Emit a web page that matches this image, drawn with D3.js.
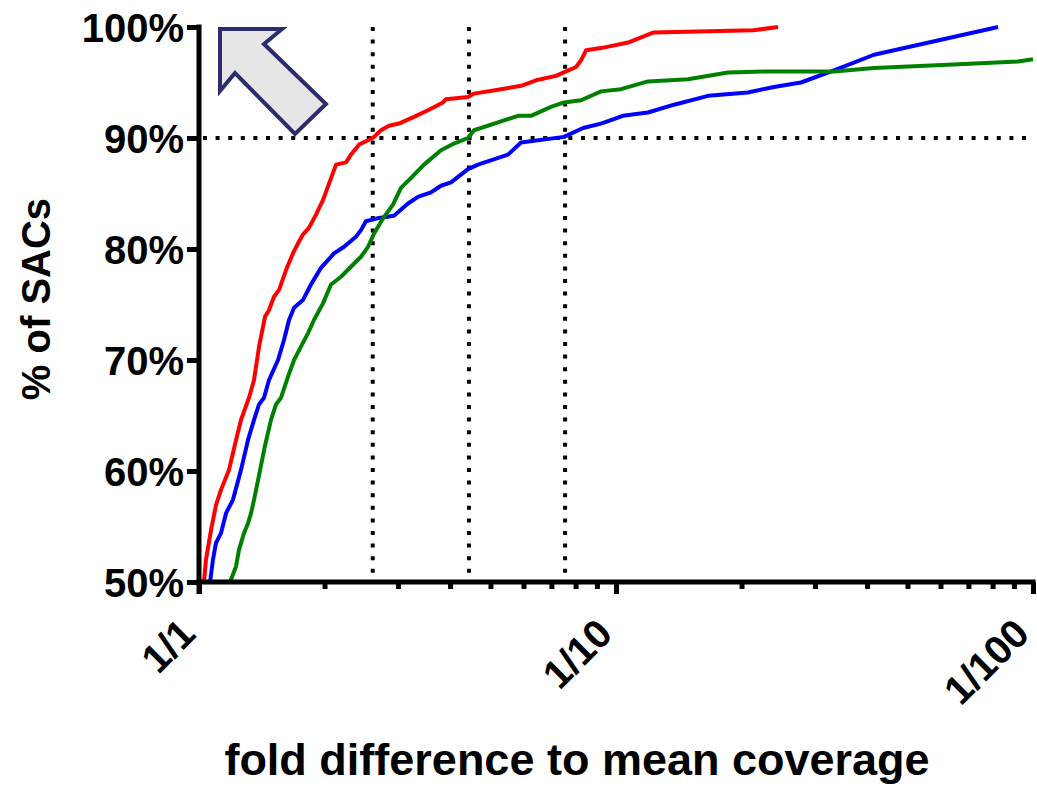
<!DOCTYPE html>
<html><head><meta charset="utf-8">
<script src="https://cdn.jsdelivr.net/npm/d3@7"></script>
<style>body{margin:0;background:#fff}svg{display:block}</style>
</head><body>
<svg id="c" width="1037" height="787"></svg>
<script>
// ---- data (fold difference = x, % of SACs = y) ----
const redFold = [1.028,1.039,1.069,1.098,1.129,1.180,1.227,1.261,1.318,1.355,1.393,1.440,1.472,1.513,1.555,1.617,1.680,1.727,1.775,1.835,1.908,1.983,2.131,2.252,2.314,2.419,2.543,2.629,2.732,2.855,3.017,3.278,3.541,3.847,3.911,4.417,4.566,5.299,5.918,6.429,7.181,7.590,8.021,8.246,8.476,9.204,10.69,12.27,21.31,24.46];
const redPct  = [50.0,52.0,54.7,56.9,58.3,60.1,62.8,64.6,66.6,68.2,71.2,73.9,74.5,75.7,76.3,78.1,79.6,80.5,81.3,81.9,83.1,84.4,87.6,87.8,88.5,89.4,89.8,90.1,90.7,91.1,91.3,91.9,92.5,93.2,93.5,93.7,94.0,94.4,94.7,95.2,95.6,96.0,96.4,97.0,97.9,98.1,98.6,99.5,99.7,100.0];

const blueFold = [1.063,1.080,1.098,1.129,1.161,1.206,1.261,1.311,1.355,1.393,1.432,1.472,1.547,1.599,1.644,1.690,1.775,1.856,1.961,2.108,2.228,2.379,2.446,2.514,2.702,2.935,3.171,3.351,3.600,3.805,4.021,4.417,4.668,5.508,5.918,7.506,8.337,9.204,10.39,11.93,13.78,16.62,20.73,23.92,27.77,33.32,41.57,82.46];
const bluePct  = [50.0,52.0,53.5,54.4,56.2,57.4,60.1,62.8,64.6,66.0,66.6,68.2,70.0,71.8,73.6,74.7,75.4,76.8,78.3,79.6,80.2,81.1,81.7,82.5,82.8,83.0,84.1,84.7,85.1,85.7,86.0,87.2,87.6,88.5,89.6,90.1,90.9,91.3,92.0,92.3,93.0,93.8,94.1,94.6,95.0,96.1,97.5,100.0];

const greenFold = [1.187,1.227,1.247,1.282,1.311,1.333,1.355,1.393,1.440,1.488,1.530,1.573,1.635,1.690,1.756,1.825,1.887,1.983,2.073,2.191,2.314,2.446,2.543,2.629,2.778,2.919,3.050,3.224,3.464,3.805,4.088,4.417,4.566,5.212,5.821,6.254,6.985,7.506,8.246,9.204,10.28,11.93,14.88,18.56,23.14,33.32,41.57,62.54,92.05,100];
const greenPct  = [50.0,51.4,52.9,54.4,55.3,56.2,57.4,59.6,62.3,64.6,66.0,66.6,68.5,70.0,71.2,72.4,73.6,75.1,76.8,77.5,78.4,79.3,80.2,81.4,82.9,84.0,85.5,86.4,87.6,88.9,89.5,90.0,90.7,91.4,92.0,92.0,92.8,93.2,93.4,94.2,94.4,95.1,95.3,95.9,96.0,96.0,96.3,96.6,96.9,97.1];

const seriesNames  = ["red","blue","green"];
const seriesColors = ["#ff0000","#0000ff","#008000"];

const xMajorTicks  = [1,10,100];
const xMajorLabels = ["1/1","1/10","1/100"];
const xMinorTicks  = [2,3,4,5,6,7,8,9,20,30,40,50,60,70,80,90];
const yTicks       = [50,60,70,80,90,100];
const yTickLabels  = ["50%","60%","70%","80%","90%","100%"];
const refFolds     = [2.61,4.44,7.55];
const refPct       = 90;

const xTitle = "fold difference to mean coverage";
const yTitle = "% of SACs";

// ---- drawing ----
const svg = d3.select("#c");
const FONT = "'Liberation Sans', Arial, Helvetica, sans-serif";
const x = d3.scaleLog().domain([1,100]).range([199,1033]);
const y = d3.scaleLinear().domain([50,100]).range([582,27]);

// dotted reference lines
const dots = svg.append("g").attr("stroke","#000").attr("stroke-width",4)
  .attr("stroke-dasharray","4,8.6").attr("fill","none");
dots.append("line").attr("x1",x(1)+4).attr("x2",x(100)).attr("y1",y(refPct)).attr("y2",y(refPct));
refFolds.forEach(f=>{
  dots.append("line").attr("x1",x(f)).attr("x2",x(f)).attr("y1",y(100)).attr("y2",y(50));
});

// curves
const data = [
  d3.zip(redFold, redPct),
  d3.zip(blueFold, bluePct),
  d3.zip(greenFold, greenPct)
];
const line = d3.line().x(d=>x(d[0])).y(d=>y(d[1]));
svg.append("g").selectAll("path").data(data).join("path")
  .attr("d", line).attr("fill","none")
  .attr("stroke",(d,i)=>seriesColors[i]).attr("stroke-width",4)
  .attr("stroke-linejoin","round").attr("stroke-linecap","butt");

// x axis minor ticks
const xMinor = svg.append("g").attr("transform",`translate(0,${y(50)})`)
  .call(d3.axisBottom(x).tickValues(xMinorTicks).tickSize(7).tickSizeOuter(0).tickFormat(""));
xMinor.select(".domain").remove();
xMinor.selectAll("line").attr("stroke","#000").attr("stroke-width",5);

// x axis major
const xMajor = svg.append("g").attr("transform",`translate(0,${y(50)})`)
  .call(d3.axisBottom(x).tickValues(xMajorTicks).tickSize(12).tickSizeOuter(0)
        .tickFormat((d,i)=>xMajorLabels[i]));
xMajor.select(".domain").remove();
xMajor.selectAll(".tick line").attr("stroke","#000").attr("stroke-width",5);
xMajor.selectAll(".tick text")
  .attr("font-family",FONT).attr("font-weight","bold").attr("font-size",40).attr("fill","#000")
  .attr("text-anchor","end").attr("y",0).attr("dy",0)
  .attr("transform","translate(-2,54) rotate(-45)");

// x axis line
svg.append("line").attr("x1",x(1)-2.5).attr("x2",x(100)+2.5)
  .attr("y1",y(50)).attr("y2",y(50)).attr("stroke","#000").attr("stroke-width",5);

// y axis
const yAx = svg.append("g").attr("transform",`translate(${x(1)},0)`)
  .call(d3.axisLeft(y).tickValues(yTicks).tickSize(12).tickSizeOuter(0)
        .tickFormat((d,i)=>yTickLabels[i]));
yAx.select(".domain").remove();
yAx.selectAll(".tick line").attr("stroke","#000").attr("stroke-width",5);
yAx.selectAll(".tick text")
  .attr("font-family",FONT).attr("font-weight","bold").attr("font-size",40).attr("fill","#000")
  .attr("x",-15).attr("dy","0.36em");
svg.append("line").attr("x1",x(1)).attr("x2",x(1))
  .attr("y1",y(100)-2.5).attr("y2",y(50)+12).attr("stroke","#000").attr("stroke-width",5);

// titles
svg.append("text").attr("x",577).attr("y",775).attr("text-anchor","middle")
  .attr("font-family",FONT).attr("font-weight","bold").attr("font-size",45).text(xTitle);
svg.append("text").attr("transform","translate(50,299) rotate(-90)").attr("text-anchor","middle")
  .attr("font-family",FONT).attr("font-weight","bold").attr("font-size",40).text(yTitle);

// block arrow annotation (pointing up-left)
const arrowShape = [[0,0],[62,0],[44,15],[106,75],[75,105],[15,44],[0,62]];
svg.append("polygon").attr("transform","translate(220,29)")
  .attr("points",arrowShape.map(p=>p.join(",")).join(" "))
  .attr("fill","#e6e6e6").attr("stroke","#2b2c6e").attr("stroke-width",4)
  .attr("stroke-linejoin","miter");
</script>
</body></html>
